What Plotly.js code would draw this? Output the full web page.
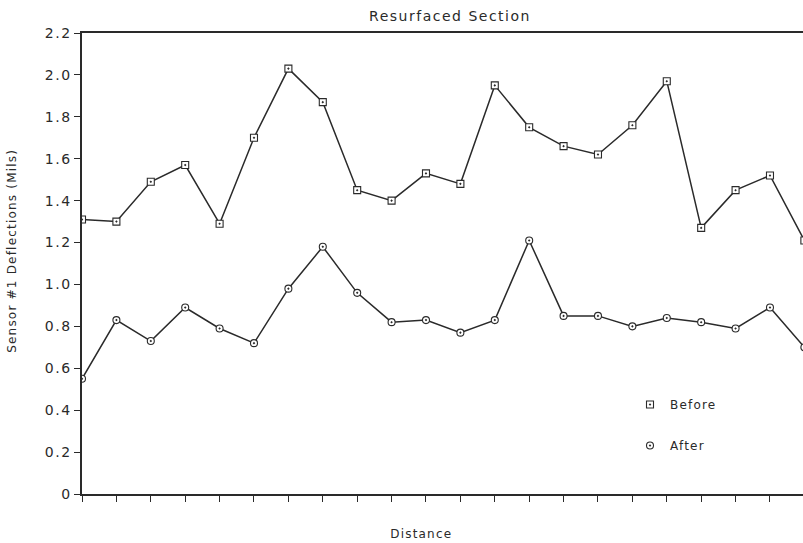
<!DOCTYPE html>
<html>
<head>
<meta charset="utf-8">
<script src="https://cdn.plot.ly/plotly-3.0.1.min.js"></script>
<style>
html,body{margin:0;padding:0;background:#fff;}
#chart{width:803px;height:543px;}
#chart .gtitle{letter-spacing:1.5px;}
#chart .annotation-text{letter-spacing:1.2px;}
#chart .ytick text{letter-spacing:1.5px;}
#chart .legendtext{letter-spacing:1.2px;}
</style>
</head>
<body>
<div id="chart"></div>
<script>
var stations = [0,1,2,3,4,5,6,7,8,9,10,11,12,13,14,15,16,17,18,19,20,21];
var beforeVals = [1.31,1.30,1.49,1.57,1.29,1.70,2.03,1.87,1.45,1.40,1.53,1.48,1.95,1.75,1.66,1.62,1.76,1.97,1.27,1.45,1.52,1.21];
var afterVals  = [0.55,0.83,0.73,0.89,0.79,0.72,0.98,1.18,0.96,0.82,0.83,0.77,0.83,1.21,0.85,0.85,0.80,0.84,0.82,0.79,0.89,0.70];
var yTickVals = [0,0.2,0.4,0.6,0.8,1.0,1.2,1.4,1.6,1.8,2.0,2.2];
var yTickText = ['0','0.2','0.4','0.6','0.8','1.0','1.2','1.4','1.6','1.8','2.0','2.2'];
var seriesNames = ['Before','After'];

var ink = '#2a2a2a';
var fontFam = 'DejaVu Sans, Liberation Sans, sans-serif';

function lineTrace(y){
  return {x: stations, y: y, mode: 'lines', showlegend: false, hoverinfo: 'skip',
          line: {color: ink, width: 1.5}};
}
function markTrace(y, name, sym, grp){
  return {x: stations, y: y, name: name, mode: 'markers', legendgroup: grp,
          marker: {symbol: sym, size: 7, color: '#ffffff', line: {color: ink, width: 1.1}}};
}

var traces = [
  lineTrace(beforeVals),
  lineTrace(afterVals),
  markTrace(beforeVals, seriesNames[0], 'square-dot', 'a'),
  markTrace(afterVals, seriesNames[1], 'circle-dot', 'b')
];

var layout = {
  width: 803, height: 543,
  margin: {l: 82, r: 0, t: 33, b: 49},
  paper_bgcolor: '#ffffff', plot_bgcolor: '#ffffff',
  font: {family: fontFam, color: ink},
  title: {text: 'Resurfaced Section', x: 450/803, xref: 'container', xanchor: 'center',
          y: 1 - 16/543, yref: 'container', yanchor: 'middle',
          font: {size: 14, family: fontFam, color: ink}},
  xaxis: {range: [0, 20.96], showgrid: false, zeroline: false,
          showline: true, linecolor: ink, linewidth: 1.6, mirror: true,
          ticks: 'outside', ticklen: 6, tickwidth: 1, tickcolor: ink,
          tick0: 0, dtick: 1, showticklabels: false},
  yaxis: {range: [0, 2.2], showgrid: false, zeroline: false,
          showline: true, linecolor: ink, linewidth: 1.6,
          ticks: 'outside', ticklen: 6, tickwidth: 1, tickcolor: ink,
          tickvals: yTickVals, ticktext: yTickText, ticklabelstandoff: 0,
          tickfont: {size: 14, family: fontFam, color: ink}},
  showlegend: true,
  legend: {x: (630-82)/721, xanchor: 'left', y: (494-390)/461, yanchor: 'top',
           bgcolor: 'rgba(0,0,0,0)', tracegroupgap: 22,
           font: {size: 12, family: fontFam, color: ink}},
  annotations: [
    {text: 'Sensor #1 Deflections (Mils)', xref: 'paper', yref: 'paper',
     x: -70/721, y: (494-251)/461, xanchor: 'center', yanchor: 'middle',
     textangle: -90, showarrow: false, font: {size: 12, family: fontFam, color: ink}},
    {text: 'Distance', xref: 'paper', yref: 'paper',
     x: (421-82)/721, y: -(534-494)/461, xanchor: 'center', yanchor: 'middle',
     showarrow: false, font: {size: 12, family: fontFam, color: ink}}
  ]
};

Plotly.newPlot('chart', traces, layout, {displayModeBar: false, staticPlot: true});
</script>
</body>
</html>
